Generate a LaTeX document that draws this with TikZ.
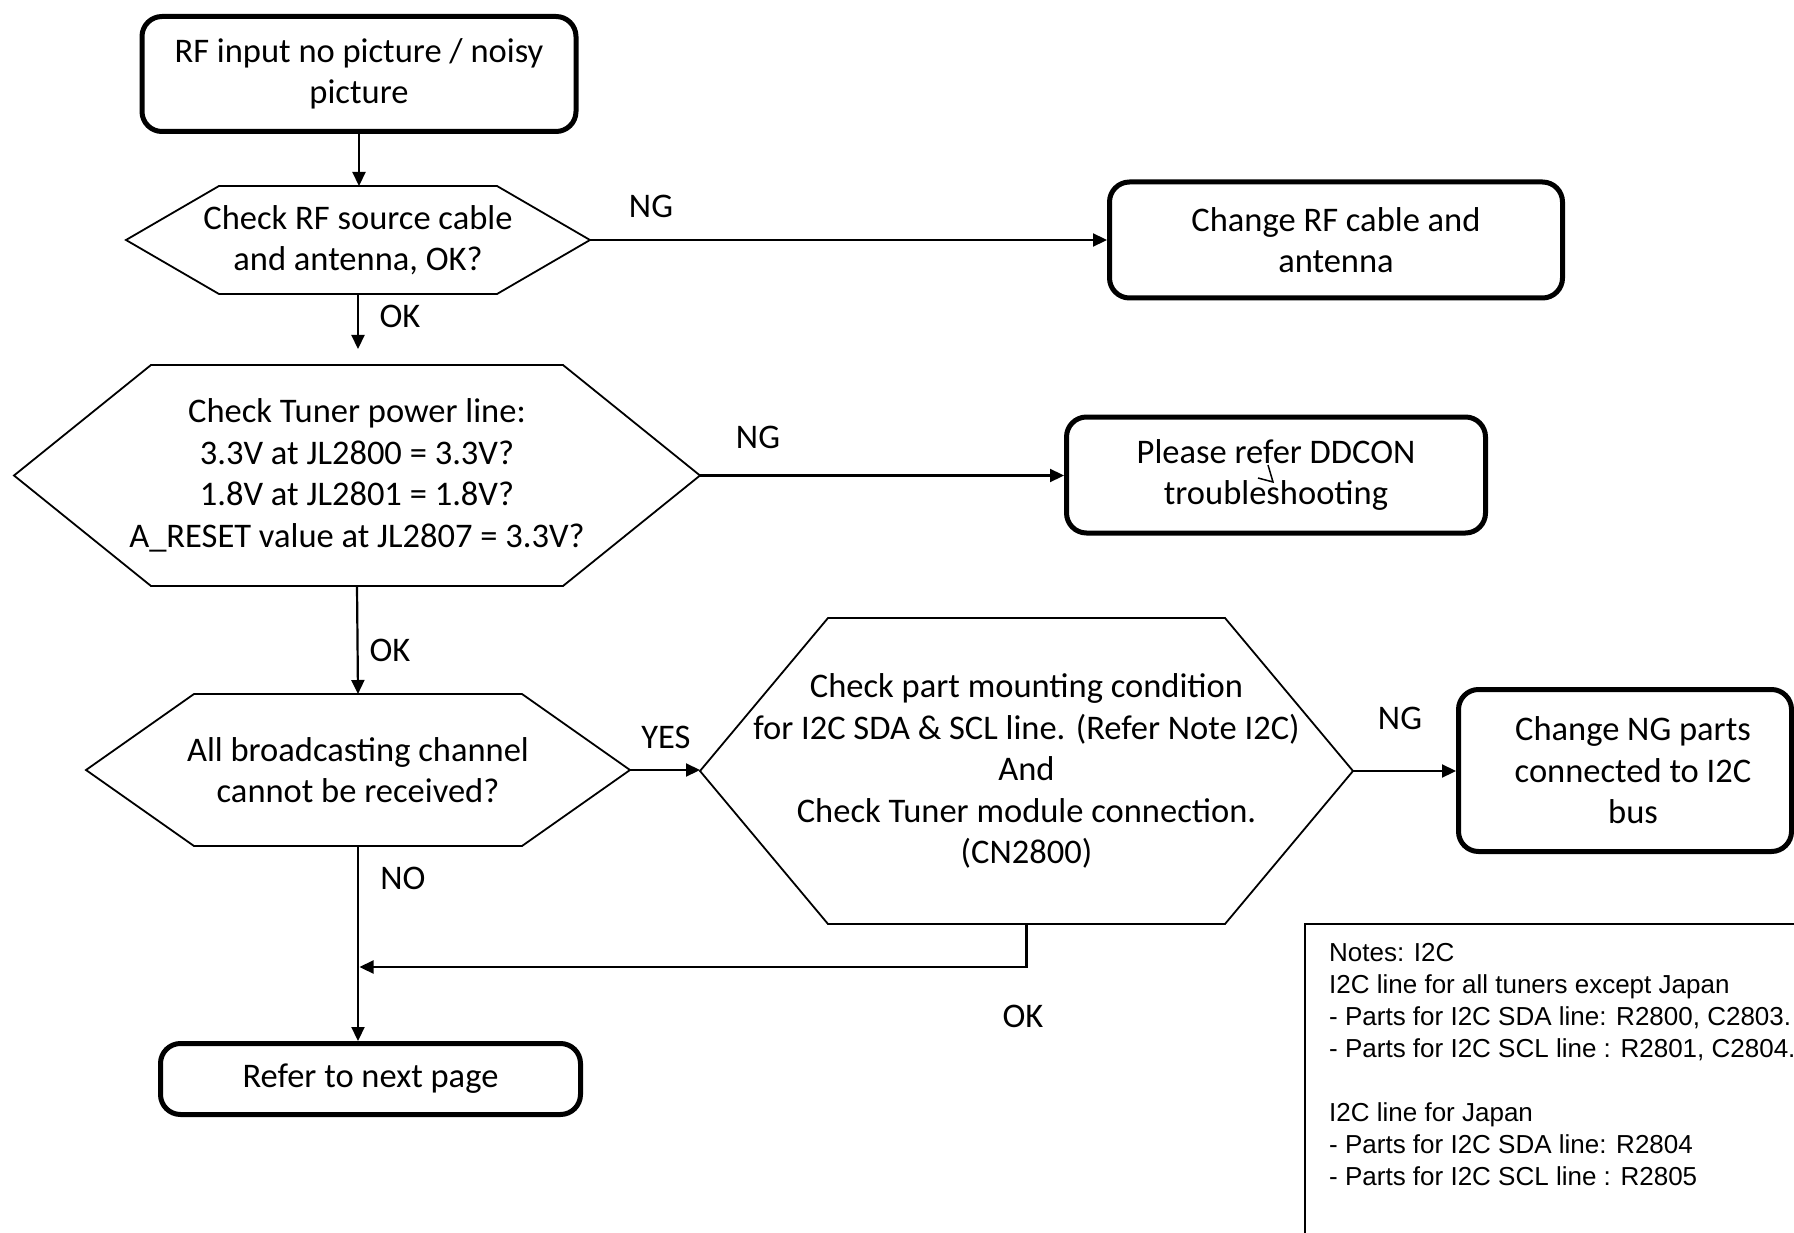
\documentclass[tikz,border=0pt]{standalone}
\usepackage{fontspec}
\setmainfont{Carlito}
\newfontfamily\notefont{Liberation Sans}
\usetikzlibrary{arrows.meta,calc}
\newcommand\MyMainFont{\fontsize{34.5pt}{41.5pt}\selectfont}
\newcommand\MyNoteFont{\notefont\fontsize{26pt}{32pt}\selectfont}
\newcommand\HexDraw[2]{\draw[hexline] ($(#1.north west)+(#2,0)$) -- ($(#1.north east)+(-#2,0)$) -- (#1.east) -- ($(#1.south east)+(-#2,0)$) -- ($(#1.south west)+(#2,0)$) -- (#1.west) -- cycle;}
\begin{document}
\begin{tikzpicture}[x=1pt,y=-1pt,
  conn/.style={line width=2.2pt, -{Triangle[length=14pt,width=13pt]}},
  rbox/.style={draw, line width=5pt, rounded corners=20pt, align=center, font=\MyMainFont, inner sep=0pt, outer sep=2.5pt},
  hexn/.style={inner sep=0pt, outer sep=0pt, align=center, font=\MyMainFont},
  hexline/.style={line width=1.8pt, line join=miter},
  lbl/.style={font=\MyMainFont, inner sep=0pt},
]
\useasboundingbox (0,0) rectangle (1794,1233);
\fill[white] (0,0) rectangle (1794,1233);
\clip (0,0) rectangle (1794,1233);

\node[rbox, minimum width=434pt, minimum height=115pt] (start) at (359,74) {RF input no picture / noisy\\picture};
\node[hexn, minimum width=464pt, minimum height=108pt] (h1) at (358,240) {Check RF source cable\\and antenna, OK?};
\HexDraw{h1}{93}
\node[rbox, minimum width=453pt, minimum height=116pt] (rf) at (1336,240) {Change RF cable and\\antenna};
\node[hexn, minimum width=686pt, minimum height=221pt] (h2) at (357,475.5) {Check Tuner power line:\\3.3V at JL2800 = 3.3V?\\1.8V at JL2801 = 1.8V?\\A\_RESET value at JL2807 = 3.3V?};
\HexDraw{h2}{137}
\node[rbox, minimum width=419pt, minimum height=116pt] (dd) at (1276,475) {Please refer DDCON\\troubleshooting};
\node[hexn, minimum width=544pt, minimum height=152pt] (h3) at (358,770) {All broadcasting channel\\cannot be received?};
\HexDraw{h3}{108}
\node[hexn, minimum width=653pt, minimum height=306pt] (h4) at (1026.5,771) {Check part mounting condition\\for I2C SDA \& SCL line. (Refer Note I2C)\\And\\Check Tuner module connection.\\(CN2800)};
\HexDraw{h4}{128}
\node[rbox, minimum width=333pt, minimum height=162pt] (ng) at (1625,770.5) {\hspace*{16pt}Change NG parts\\\hspace*{16pt}connected to I2C\\\hspace*{16pt}bus};
\node[rbox, minimum width=420pt, minimum height=71pt] (refer) at (370.5,1079) {Refer to next page};

\node[draw, line width=1.5pt, minimum width=515pt, minimum height=336pt, anchor=north west, inner sep=0pt, outer sep=0pt] (notesbox) at (1305,924) {};
\node[anchor=north west, align=left, font=\MyNoteFont, inner sep=0pt] (notes) at (1329,943) {Notes: I2C\\I2C line for all tuners except Japan\\- Parts for I2C SDA line: R2800, C2803.\\- Parts for I2C SCL line : R2801, C2804.\\[32pt]I2C line for Japan\\- Parts for I2C SDA line: R2804\\- Parts for I2C SCL line : R2805};

% labels
\node[lbl] (lng1) at (651,206) {NG};
\node[lbl] (lok1) at (400,316) {OK};
\node[lbl] (lng2) at (758,437) {NG};
\node[lbl] (lok2) at (390,650) {OK};
\node[lbl] (lyes) at (666,737) {YES};
\node[lbl] (lng3) at (1400,718) {NG};
\node[lbl] (lno) at (403,878) {NO};
\node[lbl] (lok3) at (1023,1016) {OK};

% connectors
\coordinate (a1) at ($(h2.north)+(0,-16)$);
\coordinate (j) at (359.5,967);
\draw[conn] (start.south) -- (start.south |- h1.north);
\draw[conn] (h1.east) -- (h1.east -| rf.west);
\draw[conn] (h1.south) -- (h1.south |- a1);
\draw[conn] (h2.east) -- (h2.east -| dd.west);
\draw[conn] (h2.south) -- (h3.north);
\draw[conn] (h3.east) -- (h3.east -| h4.west);
\draw[conn] (h4.east) -- (h4.east -| ng.west);
\draw[conn] (h3.south) -- (h3.south |- refer.north);
\draw[conn] (h4.south) |- (j);

% stray pen mark in the reference
\draw[line width=1.5pt] (1268,465) -- (1273,482) -- (1258,478);
\end{tikzpicture}
\end{document}
